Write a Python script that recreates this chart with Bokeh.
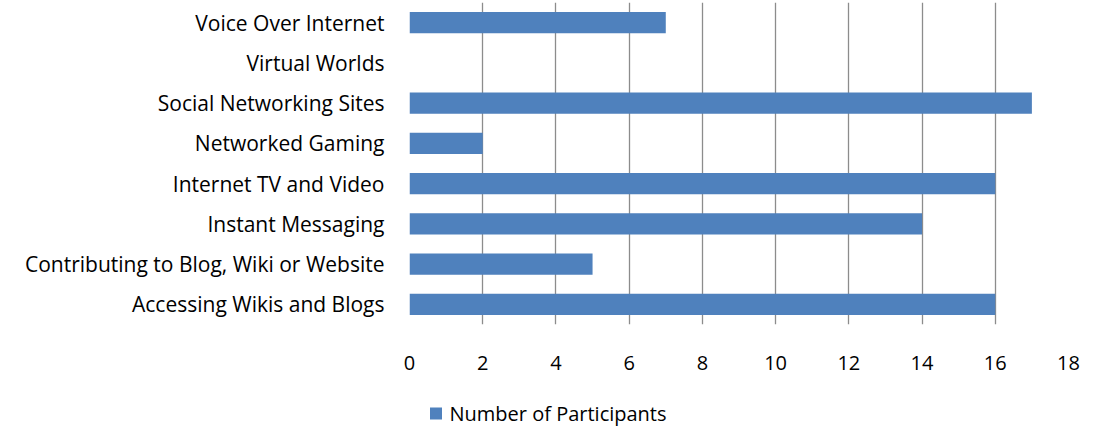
from bokeh.plotting import figure
from bokeh.layouts import column
from bokeh.models import ColumnDataSource, FixedTicker, Range1d
from bokeh.core.properties import value
from bokeh.embed import file_html
from bokeh.resources import INLINE

categories = [
    "Accessing Wikis and Blogs",
    "Contributing to Blog, Wiki or Website",
    "Instant Messaging",
    "Internet TV and Video",
    "Networked Gaming",
    "Social Networking Sites",
    "Virtual Worlds",
    "Voice Over Internet",
]
participants = [16, 5, 14, 16, 2, 17, 0, 7]
x_ticks = [0, 2, 4, 6, 8, 10, 12, 14, 16, 18]
series_name = "Number of Participants"

FONT = "Open Sans"
BAR = "#4F81BD"
W = 1081
LEFT, RIGHT = 409, 13

src = ColumnDataSource(dict(y=list(range(len(categories))), v=participants))

p = figure(width=W, height=390, output_backend="svg", toolbar_location=None,
           x_range=Range1d(0, 18), y_range=Range1d(-0.5, 7.5),
           min_border_left=LEFT, min_border_right=RIGHT, min_border_top=2,
           min_border_bottom=66)
p.outline_line_color = None
p.background_fill_color = "white"

p.hbar(y="y", right="v", left=0, height=0.53, source=src,
       fill_color=BAR, line_color=None)

p.xaxis.ticker = FixedTicker(ticks=x_ticks)
p.yaxis.ticker = FixedTicker(ticks=list(range(len(categories))))
p.yaxis.major_label_overrides = {i: c for i, c in enumerate(categories)}

for ax in (p.xaxis, p.yaxis):
    ax.axis_line_color = None
    ax.major_tick_line_color = None
    ax.minor_tick_line_color = None
    ax.major_tick_out = 0
    ax.major_tick_in = 0
    ax.major_label_text_font = FONT
    ax.major_label_text_color = "#000000"

p.xaxis.major_label_text_font_size = "20px"
p.xaxis.major_label_standoff = 31
p.yaxis.major_label_text_font_size = "21px"
p.yaxis.major_label_standoff = 25

p.ygrid.grid_line_color = None
p.xgrid.grid_line_color = "#8C8C8C"
p.xgrid.grid_line_width = 1.3

# legend strip: separate figure (its frame is aligned with the main plot's frame),
# ranges in pixel units so the key is not clipped by the plot frame
LH = 38
lg = figure(width=W, height=LH, output_backend="svg", toolbar_location=None,
            x_range=Range1d(LEFT, W - RIGHT), y_range=Range1d(0, LH),
            min_border_left=LEFT, min_border_right=RIGHT,
            min_border_top=0, min_border_bottom=0,
            x_axis_location=None, y_axis_location=None)
lg.outline_line_color = None
lg.grid.grid_line_color = None
lg.scatter(x=[435.5], y=[15], marker="square", size=12,
           fill_color=BAR, line_color=None)
lg.text(x=[449], y=[15], text=[series_name], text_font=value(FONT),
        text_font_size="20px", text_color="#000000",
        text_baseline="middle", text_align="left")

layout = column(p, lg, spacing=0)
open("out.html", "w").write(file_html(layout, INLINE))
